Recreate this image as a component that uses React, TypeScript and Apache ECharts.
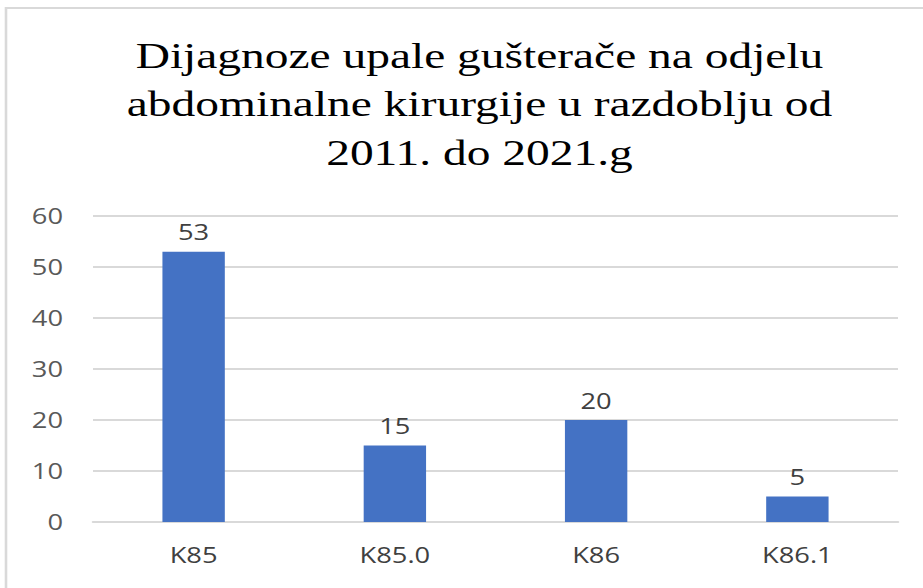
import React, { useEffect, useRef } from "react";
import * as echarts from "echarts";

const categories = ["K85", "K85.0", "K86", "K86.1"];
const values = [53, 15, 20, 5];
const titleLines = [
  "Dijagnoze upale gušterače na odjelu",
  "abdominalne kirurgije u razdoblju od",
  "2011. do 2021.g",
];

// The reference picture is stretched horizontally; render narrower and stretch.
const STRETCH = 1.3;
const W = 923;
const H = 588;
const innerW = W / STRETCH;

export default function App() {
  const ref = useRef<HTMLDivElement>(null);
  useEffect(() => {
    document.body.style.margin = "0";
    const chart = echarts.init(ref.current!, null, { renderer: "svg" });
    chart.setOption({
      animation: false,
      backgroundColor: "#ffffff",
      graphic: [
        {
          type: "rect",
          shape: { x: 6 / STRETCH, y: 8, width: 1000, height: 700 },
          style: { fill: "none", stroke: "#D9D9D9", lineWidth: 2 },
          silent: true,
        },
      ],
      title: {
        text: titleLines.join("\n"),
        left: 473 / STRETCH,
        top: 26,
        textAlign: "center",
        textStyle: {
          fontFamily: "Liberation Serif, Times New Roman, serif",
          fontWeight: "normal",
          fontSize: 36.5,
          lineHeight: 48.5,
          color: "#000000",
        },
      },
      grid: {
        left: 93 / STRETCH,
        right: innerW - 898 / STRETCH,
        top: 216,
        bottom: 66,
        containLabel: false,
      },
      xAxis: {
        type: "category",
        data: categories,
        axisLine: { show: true, lineStyle: { color: "#D9D9D9", width: 2 } },
        axisTick: { show: false },
        axisLabel: {
          color: "#404040",
          fontSize: 21,
          fontFamily: "Open Sans, sans-serif",
          margin: 22,
        },
      },
      yAxis: {
        type: "value",
        min: 0,
        max: 60,
        interval: 10,
        axisLine: { show: false },
        axisTick: { show: false },
        splitLine: { lineStyle: { color: "#D9D9D9", width: 2 } },
        axisLabel: {
          color: "#595959",
          fontSize: 21,
          fontFamily: "Open Sans, sans-serif",
          margin: 30 / STRETCH,
        },
      },
      series: [
        {
          type: "bar",
          data: values,
          barWidth: "31%",
          itemStyle: { color: "#4472C4" },
          label: {
            show: true,
            position: "top",
            distance: 9,
            color: "#404040",
            fontSize: 21,
            fontFamily: "Open Sans, sans-serif",
          },
        },
      ],
    });
    return () => chart.dispose();
  }, []);
  return (
    <div style={{ width: W, height: H, overflow: "hidden" }}>
      <div
        ref={ref}
        style={{
          width: innerW,
          height: H,
          transform: `scaleX(${STRETCH})`,
          transformOrigin: "0 0",
        }}
      />
    </div>
  );
}
